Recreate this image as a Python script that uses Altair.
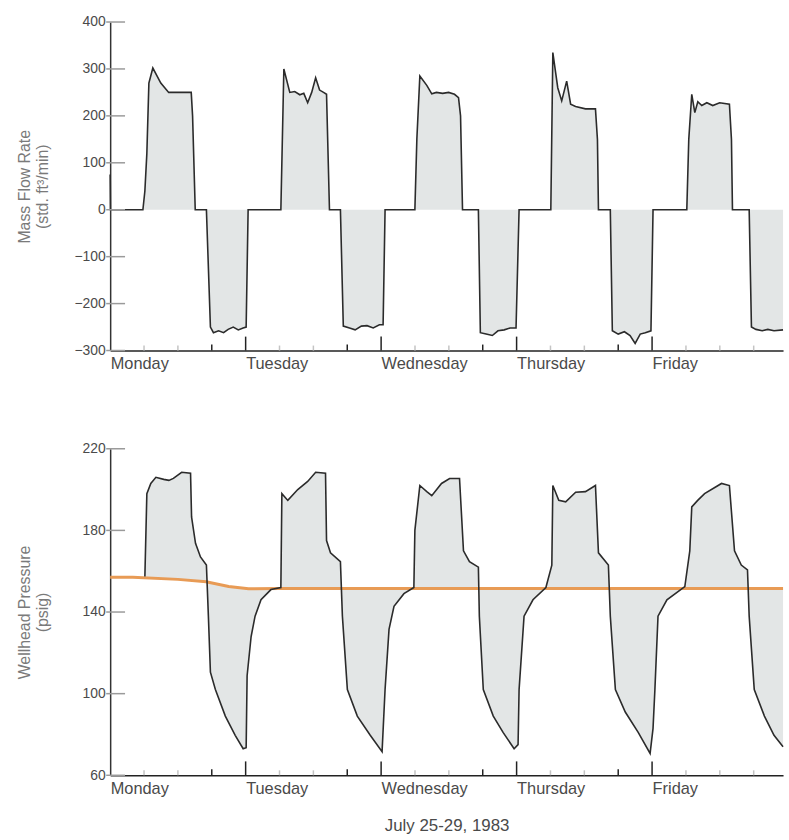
import altair as alt
import numpy as np
import pandas as pd

# ---- shared time axis (hours from Monday 00:00) ----
day_names = ["Monday", "Tuesday", "Wednesday", "Thursday", "Friday"]
day_starts = [0, 24, 48, 72, 96]
x_end = 119.2
major_ticks = [24, 48, 72, 96]
minor_ticks = [18, 42, 66, 90]
faint_ticks = [6, 12, 30, 36, 54, 60, 78, 84, 102, 108, 114]

# ---- mass flow rate (std. ft3/min) ----
flow_hours = [0.0, 0.05, 5.8, 6.15, 6.5, 6.86, 7.56, 8.97, 10.37, 14.36, 14.6, 15.07,
              17.05, 17.76, 18.3, 19.2, 20.1, 20.9, 21.8, 22.7, 23.55, 24.09, 24.44,
              30.24, 30.77, 31.82, 32.7, 33.6, 34.3, 34.99, 35.7, 36.4, 37.1, 37.8, 38.33, 38.85,
              40.79, 41.3, 42.4, 43.4, 44.5, 45.5, 46.6, 47.7, 48.35, 48.7,
              53.98, 54.33, 54.86, 56.09, 56.97, 57.8, 58.9, 59.95, 61.0, 61.71, 62.07, 62.42,
              65.23, 65.58, 66.6, 67.7, 68.7, 69.8, 70.85, 71.9, 72.44,
              78.06, 78.42, 78.94, 79.29, 79.99, 80.87, 81.57, 82.45, 84.2, 85.97, 86.32, 86.5,
              88.6, 88.96, 90.0, 91.1, 92.1, 93.0, 93.9, 94.8, 95.8, 96.17,
              102.15, 102.5, 103.03, 103.57, 104.1, 104.8, 105.7, 106.75, 107.97, 109.7, 110.06, 110.24,
              113.2, 113.6, 114.4, 115.5, 116.5, 117.6, 119.2]
flow_values = [75, 0, 0, 40, 120, 270, 302, 270, 250, 250, 200, 0,
               0, -250, -262, -258, -262, -255, -250, -256, -252, -250, 0,
               0, 300, 250, 252, 245, 248, 228, 250, 281, 255, 250, 246, 0,
               0, -248, -252, -256, -248, -247, -252, -245, -245, 0,
               0, 150, 285, 265, 247, 250, 248, 250, 246, 239, 200, 0,
               0, -262, -265, -268, -258, -256, -252, -252, 0,
               0, 335, 290, 260, 232, 274, 225, 220, 215, 215, 150, 0,
               0, -258, -265, -260, -268, -285, -265, -262, -258, 0,
               0, 150, 246, 207, 230, 222, 228, 222, 228, 225, 150, 0,
               0, -250, -255, -258, -255, -258, -256]
flow_ticks = [400, 300, 200, 100, 0, -100, -200, -300]

# ---- wellhead pressure (psig) ----
pressure_hours = [6.15, 6.5, 7.2, 8.1, 9.5, 10.4, 11.2, 12.66, 14.24, 14.42, 15.12, 16.0, 17.05,
                  17.4, 17.76, 18.64, 20.4, 22.15, 23.56, 24.09, 24.26, 24.97, 25.67, 26.72, 28.48,
                  30.24, 30.42, 31.47, 33.23, 34.99, 36.4, 38.15, 38.33, 39.03, 40.79,
                  41.14, 42.02, 43.78, 46.07, 48.17, 48.7, 49.4, 50.28, 52.04, 53.8,
                  53.98, 54.86, 56.09, 56.97, 58.7, 60.13, 61.89, 62.59, 63.65, 65.23,
                  65.4, 66.1, 67.87, 69.6, 71.56, 72.26, 72.44, 73.32, 74.9, 77.19,
                  78.24, 78.42, 79.47, 80.7, 82.46, 84.2, 85.97, 86.5, 88.26,
                  88.6, 89.5, 91.25, 93.54, 95.65, 96.17, 96.5, 97.05, 98.63, 101.8,
                  102.68, 103.03, 104.08, 105.3, 108.3, 109.7, 110.6, 111.8, 112.9,
                  113.2, 114.1, 115.9, 117.6, 119.2]
pressure_values = [157.4, 198, 203, 206, 205, 204.5, 205.5, 208.5, 208, 186.6, 173.7, 167, 163,
                   138, 110.5, 102, 89, 79.6, 73, 73.5, 108.8, 128, 138, 146, 151,
                   152, 198, 194.7, 200, 204, 208.5, 208, 175, 169, 164.7,
                   138, 102, 89, 79.6, 71.6, 102, 131.5, 142.8, 149, 152,
                   180, 202, 199, 197, 203, 205.4, 205.4, 170, 164.7, 162,
                   138, 102, 89, 81, 73, 75, 102, 138, 146, 152,
                   163, 202, 194.7, 194, 198.7, 199, 202, 169, 163,
                   138, 102, 91, 81, 70.7, 83, 102, 138, 146, 152.5,
                   170, 191.5, 194.7, 198, 203, 202, 170, 163, 160.7,
                   138, 102, 89, 79.6, 74]
pressure_ticks = [220, 180, 140, 100, 60]

# initial reservoir pressure reference line
base_hours = [0, 4, 12, 17, 21, 24.5, 30, 119.2]
base_values = [157, 157, 156, 154.8, 152.5, 151.4, 151.5, 151.5]

# ---- styling ----
W = 678
H_TOP = 331
H_BOT = 329
FONT = "Liberation Sans"
INK = "#2b2b2b"
FILL = "#e3e6e6"
ORANGE = "#e89b55"
TEXT = "#4a4a4a"

flow_df = pd.DataFrame({"h": flow_hours, "v": flow_values})
pres_df = pd.DataFrame({"h": pressure_hours, "p": pressure_values})
pres_df["b"] = np.interp(pres_df["h"], base_hours, base_values)
base_df = pd.DataFrame({"h": base_hours, "b": base_values})

label_expr = "[" + ",".join("'%s'" % d for d in day_names) + "][round(datum.value / 24)]"


def x_enc(title=None):
    axis_kw = dict(values=day_starts, labelExpr=label_expr, labelAlign="left",
                   labelPadding=5, ticks=False, grid=False, labelFontSize=16.5,
                   labelColor=TEXT, labelFont=FONT, domainColor="#222222",
                   domainWidth=1.5, labelFlush=False)
    if title:
        axis_kw.update(title=title, titleFontSize=17, titleFont=FONT,
                       titleFontWeight="normal", titleColor=TEXT, titlePadding=21)
    else:
        axis_kw.update(title=None)
    return alt.X("h:Q", scale=alt.Scale(domain=[0, x_end], nice=False, zero=False),
                 axis=alt.Axis(**axis_kw))


def y_axis(title, pad, values):
    return alt.Axis(title=title, values=values, ticks=False, grid=False, labelFontSize=14,
                    labelColor=TEXT, labelFont=FONT, labelPadding=5,
                    domainColor="#333333", domainWidth=1.5, labelFlush=False,
                    titleFont=FONT, titleFontSize=16, titleFontWeight="normal",
                    titleColor="#7a7a7a", titlePadding=pad, titleLineHeight=18)


def time_ticks(height):
    layers = []
    for hours, size, color in [(major_ticks, 14, "#222222"),
                               (minor_ticks, 6, "#222222"),
                               (faint_ticks, 5, "#c4c4c4")]:
        df = pd.DataFrame({"h": hours})
        layers.append(
            alt.Chart(df).mark_rule(color=color, strokeWidth=1.5).encode(
                x="h:Q", y=alt.value(height - size), y2=alt.value(height)))
    return layers


def value_ticks(values, field):
    df = pd.DataFrame({field: values})
    return alt.Chart(df).mark_rule(color="#9a9a9a", strokeWidth=1.5).encode(
        y=f"{field}:Q", x=alt.value(-4), x2=alt.value(15))


# ---- top panel: mass flow rate ----
y_flow = alt.Y("v:Q", scale=alt.Scale(domain=[-300, 400], nice=False, zero=False),
               axis=y_axis(["Mass Flow Rate", "(std. ft³/min)"], 24, flow_ticks))
flow_area = alt.Chart(flow_df).mark_area(color=FILL, opacity=1).encode(
    x=x_enc(), y=y_flow, y2=alt.datum(0))
flow_line = alt.Chart(flow_df).mark_line(color=INK, strokeWidth=1.6).encode(
    x="h:Q", y="v:Q")
top = alt.layer(flow_area, flow_line, value_ticks(flow_ticks, "v"),
                *time_ticks(H_TOP)).properties(width=W, height=H_TOP)

# ---- bottom panel: wellhead pressure ----
y_pres = alt.Y("p:Q", scale=alt.Scale(domain=[60, 220], nice=False, zero=False),
               axis=y_axis(["Wellhead Pressure", "(psig)"], 32, pressure_ticks))
pres_area = alt.Chart(pres_df).mark_area(color=FILL, opacity=1).encode(
    x=x_enc("July 25-29, 1983"), y=y_pres, y2="b:Q")
base_line = alt.Chart(base_df).mark_line(color=ORANGE, strokeWidth=3).encode(
    x="h:Q", y=alt.Y("b:Q"))
pres_line = alt.Chart(pres_df).mark_line(color=INK, strokeWidth=1.6).encode(
    x="h:Q", y="p:Q")
bottom = alt.layer(pres_area, base_line, pres_line, value_ticks(pressure_ticks, "p"),
                   *time_ticks(H_BOT)).properties(width=W, height=H_BOT)

chart = alt.vconcat(top, bottom, spacing=70).properties(
    padding={"left": 16, "top": 12, "right": 0, "bottom": 0},
    background="white",
).configure_view(stroke=None)

chart.save("out.html", embed_options={"renderer": "svg", "actions": False})
